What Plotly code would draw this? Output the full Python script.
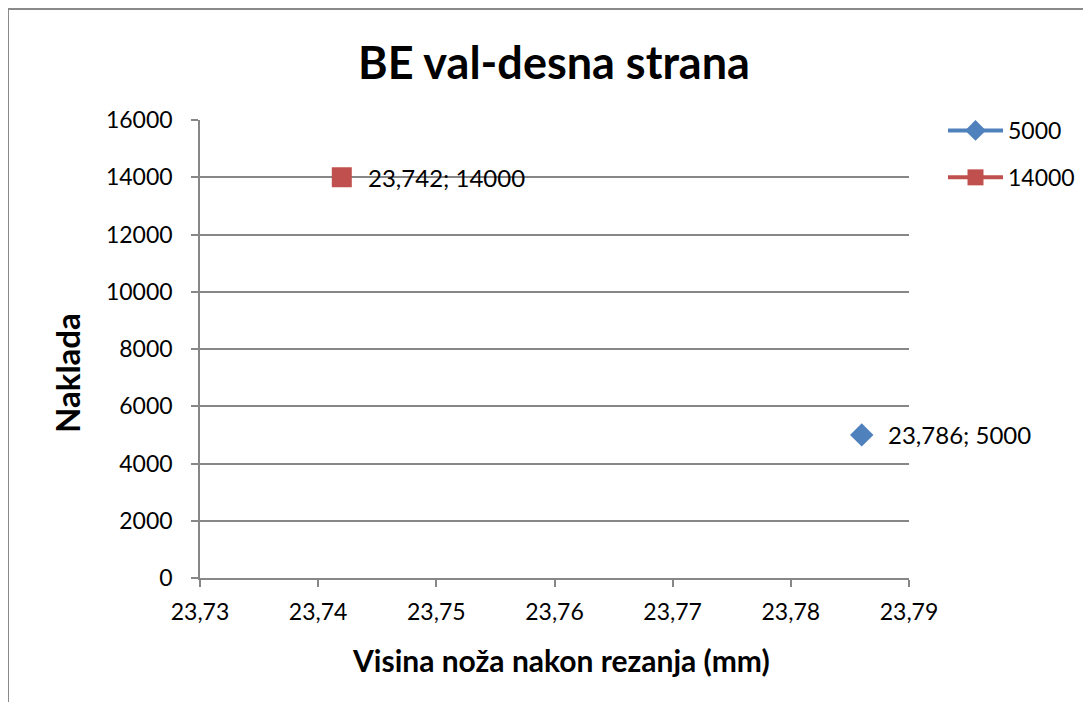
import plotly.graph_objects as go

series_names = ["5000", "14000"]
x_values = [[23.786], [23.742]]
y_values = [[5000], [14000]]
colors = ["#4F81BD", "#C0504D"]
symbols = ["diamond", "square"]

x_ticks = [23.73, 23.74, 23.75, 23.76, 23.77, 23.78, 23.79]
x_ticktext = ["23,73", "23,74", "23,75", "23,76", "23,77", "23,78", "23,79"]
y_ticks = [0, 2000, 4000, 6000, 8000, 10000, 12000, 14000, 16000]
y_ticktext = [str(v) for v in y_ticks]

title = "BE val-desna strana"
x_title = "Visina noža nakon rezanja (mm)"
y_title = "Naklada"

FONT = "Lato"
OFF = 8  # page body margin
PW, PH = 1091, 702
W, H = PW - OFF, PH - OFF
# plot area in page pixels
L, R, T, B = 200, 909, 120, 578
pw, ph = R - L, B - T

def px2x(px):
    return (px - L) / pw

def px2y(py):
    return (B - py) / ph

fig = go.Figure()
for name, xs, ys, c, s in zip(series_names, x_values, y_values, colors, symbols):
    fig.add_trace(go.Scatter(
        x=xs, y=ys, name=name, mode="lines+markers",
        line=dict(color=c, width=4),
        marker=dict(symbol=s, color=c, size=18 if s == "diamond" else 20),
        legendgroup=name, cliponaxis=False,
    ))
    for x, y in zip(xs, ys):
        fig.add_annotation(x=x, y=y, xref="x", yref="y",
                           text=f"{x:.3f}".replace(".", ",") + "; " + str(y),
                           showarrow=False, xanchor="left", yanchor="middle",
                           xshift=24, font=dict(family=FONT, size=24, color="black"))

grid = "#878787"
fig.update_layout(
    width=W, height=H,
    margin=dict(l=L - OFF, r=PW - R, t=T - OFF, b=PH - B, pad=0, autoexpand=False),
    paper_bgcolor="white", plot_bgcolor="white",
    font=dict(family=FONT, size=23, color="black"),
    showlegend=True,
    legend=dict(x=px2x(943), y=px2y(109), xanchor="left", yanchor="top",
                traceorder="grouped", tracegroupgap=14, itemwidth=55,
                font=dict(family=FONT, size=23, color="black"),
                bgcolor="rgba(0,0,0,0)"),
    xaxis=dict(range=[23.73, 23.79], tickvals=x_ticks, ticktext=x_ticktext,
               showgrid=False, zeroline=False, showline=True, linecolor=grid, linewidth=1.5,
               ticks="outside", ticklen=7, tickcolor=grid, tickwidth=1.5,
               ticklabelstandoff=6, tickfont=dict(family=FONT, size=23, color="black")),
    yaxis=dict(range=[0, 16000], tickvals=y_ticks, ticktext=y_ticktext,
               showgrid=True, gridcolor=grid, gridwidth=1.5, zeroline=False,
               showline=True, linecolor=grid, linewidth=1.5,
               ticks="outside", ticklen=7, tickcolor=grid, tickwidth=1.5,
               ticklabelstandoff=14, tickfont=dict(family=FONT, size=23, color="black")),
)

fig.add_annotation(text=f"<b>{title}</b>", x=px2x(554), y=px2y(62), xref="paper", yref="paper",
                   showarrow=False, font=dict(family=FONT, size=45, color="black"),
                   xanchor="center", yanchor="middle")
fig.add_annotation(text=f"<b>{x_title}</b>", x=px2x(561), y=px2y(660), xref="paper", yref="paper",
                   showarrow=False, font=dict(family=FONT, size=30, color="black"),
                   xanchor="center", yanchor="middle")
fig.add_annotation(text=f"<b>{y_title}</b>", x=px2x(67), y=px2y(373), xref="paper", yref="paper",
                   showarrow=False, textangle=-90, font=dict(family=FONT, size=33, color="black"),
                   xanchor="center", yanchor="middle")

# chart border (top and left edges visible)
fig.add_shape(type="line", xref="paper", yref="paper", x0=px2x(OFF), x1=px2x(PW + 20),
              y0=px2y(OFF + 1), y1=px2y(OFF + 1), line=dict(color="#8A8A8A", width=2))
fig.add_shape(type="line", xref="paper", yref="paper", x0=px2x(OFF), x1=px2x(OFF),
              y0=px2y(OFF + 1), y1=px2y(PH + 20), line=dict(color="#8A8A8A", width=2))

fig.write_html("out.html")
